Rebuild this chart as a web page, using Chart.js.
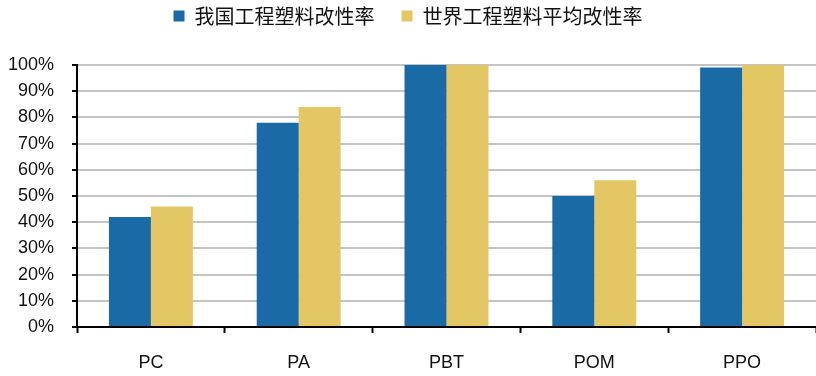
<!DOCTYPE html>
<html>
<head>
<meta charset="utf-8">
<script src="https://cdn.jsdelivr.net/npm/chart.js@4"></script>
<style>
  html, body { margin: 0; padding: 0; background: #fff; }
  #wrap { width: 816px; height: 376px; }
</style>
</head>
<body>
<div id="wrap"><canvas id="c" width="816" height="376"></canvas></div>
<script>
// Engineering plastics modification rate by resin type (%)
const categories = ['PC', 'PA', 'PBT', 'POM', 'PPO'];
const chinaRate = [42, 78, 100, 50, 99];
const worldRate = [46, 84, 100, 56, 100];
const seriesNames = ['我国工程塑料改性率', '世界工程塑料平均改性率'];
const yTicks = [0, 10, 20, 30, 40, 50, 60, 70, 80, 90, 100];

const axisFont = { family: '"Liberation Sans", Arial, sans-serif', size: 18 };

// Give the legend a fixed block height so the plot area starts lower
const legendHeight = {
  id: 'legendHeight',
  beforeLayout(chart) {
    const lg = chart.legend;
    if (lg && !lg._fixedFit) {
      const fit = lg.fit;
      lg.fit = function () { fit.call(this); this.height = 86; };
      lg._fixedFit = true;
    }
  }
};

new Chart(document.getElementById('c'), {
  type: 'bar',
  data: {
    labels: categories,
    datasets: [
      { label: seriesNames[0], data: chinaRate, backgroundColor: '#1a6aa5' },
      { label: seriesNames[1], data: worldRate, backgroundColor: '#e3c765' }
    ]
  },
  plugins: [legendHeight],
  options: {
    responsive: false,
    animation: false,
    layout: { padding: { top: -21, right: 0, bottom: 0, left: 0 } },
    datasets: { bar: { categoryPercentage: 0.568, barPercentage: 1.0, borderWidth: 0 } },
    plugins: {
      tooltip: { enabled: false },
      legend: {
        position: 'top',
        labels: {
          font: { family: '"Noto Sans CJK SC", sans-serif', size: 20 },
          color: '#111',
          boxWidth: 11,
          boxHeight: 11,
          padding: 27
        }
      }
    },
    scales: {
      x: {
        grid: {
          display: true,
          drawOnChartArea: false,
          offset: true,
          tickLength: 6,
          tickColor: '#000',
          tickWidth: 2
        },
        border: { color: '#000', width: 2 },
        ticks: { font: axisFont, color: '#111', padding: 19 },
        afterFit: (s) => { s.height = 49; }
      },
      y: {
        min: 0,
        max: 100,
        afterBuildTicks: (s) => { s.ticks = yTicks.map(v => ({ value: v })); },
        grid: {
          color: '#c4c4c4',
          lineWidth: 2,
          tickLength: 5,
          tickColor: '#000',
          tickWidth: 2
        },
        border: { color: '#000', width: 2 },
        ticks: {
          font: axisFont,
          color: '#111',
          padding: 18,
          callback: (v) => v + '%'
        },
        afterFit: (s) => { s.width = 77; }
      }
    }
  }
});
</script>
</body>
</html>
